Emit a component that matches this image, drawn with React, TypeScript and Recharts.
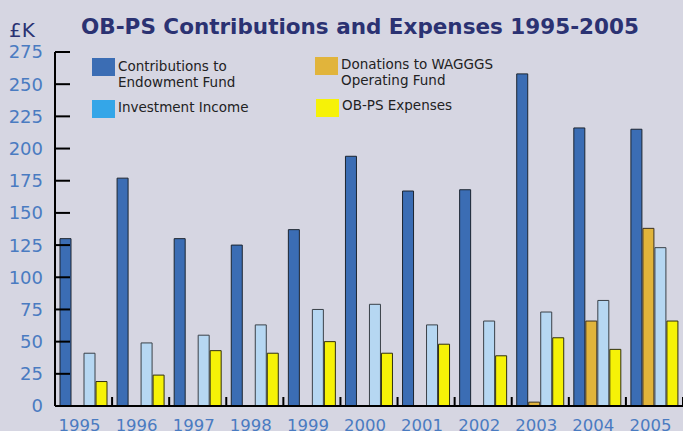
import { Bar, BarChart, XAxis, YAxis } from "recharts";

const years = ["1995", "1996", "1997", "1998", "1999", "2000", "2001", "2002", "2003", "2004", "2005"];
const contributions = [130, 177, 130, 125, 137, 194, 167, 168, 258, 216, 215];
const donations = [null, null, null, null, null, null, null, null, 3, 66, 138];
const investment = [41, 49, 55, 63, 75, 79, 63, 66, 73, 82, 123];
const expenses = [19, 24, 43, 41, 50, 41, 48, 39, 53, 44, 66];
const yTicks = [0, 25, 50, 75, 100, 125, 150, 175, 200, 225, 250, 275];

const data = years.map((year, i) => ({
  year,
  contributions: contributions[i],
  donations: donations[i],
  investment: investment[i],
  expenses: expenses[i],
}));

const series = [
  { key: "contributions", name: "Contributions to\nEndowment Fund", fill: "#3b6db4", legend: "#3b6db4", stroke: "#1c2530" },
  { key: "donations", name: "Donations to WAGGGS\nOperating Fund", fill: "#e1b43b", legend: "#e1b43b", stroke: "#3a3020" },
  { key: "investment", name: "Investment Income", fill: "#b6d7f2", legend: "#34a6e8", stroke: "#3a4048" },
  { key: "expenses", name: "OB-PS Expenses", fill: "#f6f207", legend: "#f6f207", stroke: "#303010" },
];

// where each legend entry sits (same order as series)
const legendPos = [
  { left: 92, top: 58, textTop: 58 },
  { left: 315, top: 57, textTop: 56 },
  { left: 92, top: 100, textTop: 99 },
  { left: 316, top: 99, textTop: 97 },
];

const W = 683;
const H = 431;
const AXIS_W = 55;
const BAND = (W - AXIS_W) / years.length;
const tickColor = "#4a7bc1";

function YTick(props: any) {
  const { x, y, payload } = props;
  return (
    <g>
      <line x1={x} x2={x + 15} y1={y} y2={y} stroke="#000" strokeWidth={2} />
      <text x={x - 12} y={y} dy="0.36em" textAnchor="end" fill={tickColor} fontSize={18}>
        {payload.value}
      </text>
    </g>
  );
}

function XTick(props: any) {
  const { x, y, payload, index } = props;
  return (
    <g>
      {index === 0 && <line x1={x - BAND / 2} x2={x - BAND / 2} y1={y} y2={y - 9} stroke="#000" strokeWidth={2} />}
      <line x1={x + BAND / 2} x2={x + BAND / 2} y1={y} y2={y - 9} stroke="#000" strokeWidth={2} />
      <text x={x - 4} y={y + 19} dy="0.36em" textAnchor="middle" fill={tickColor} fontSize={16.5}>
        {payload.value}
      </text>
    </g>
  );
}

function LegendBox() {
  return (
    <div style={{ position: "absolute", left: 0, top: 0, width: W, height: H, pointerEvents: "none" }}>
      {series.map((s, i) => (
        <div key={s.key}>
          <div
            style={{
              position: "absolute",
              left: legendPos[i].left,
              top: legendPos[i].top,
              width: 23,
              height: 18,
              background: s.legend,
            }}
          />
          <div
            style={{
              position: "absolute",
              left: legendPos[i].left + 26,
              top: legendPos[i].textTop,
              fontSize: 13.5,
              lineHeight: "16px",
              color: "#222",
              whiteSpace: "pre",
            }}
          >
            {s.name}
          </div>
        </div>
      ))}
    </div>
  );
}

export default function App() {
  return (
    <div
      style={{
        position: "fixed",
        left: 0,
        top: 0,
        width: W,
        height: H,
        background: "#d6d6e2",
        fontFamily: "'DejaVu Sans', Verdana, sans-serif",
        overflow: "hidden",
      }}
    >
      <BarChart
        width={W}
        height={H}
        data={data}
        margin={{ top: 52, right: 0, bottom: 0, left: 0 }}
        barCategoryGap={5}
        barGap={1}
      >
        <XAxis
          dataKey="year"
          height={25}
          tickSize={0}
          tickMargin={0}
          tick={<XTick />}
          axisLine={{ stroke: "#000", strokeWidth: 2 }}
          interval={0}
        />
        <YAxis
          width={AXIS_W}
          domain={[0, 275]}
          ticks={yTicks}
          tickSize={0}
          tickMargin={0}
          tick={<YTick />}
          axisLine={{ stroke: "#000", strokeWidth: 2 }}
          interval={0}
        />
        {series.map((s) => (
          <Bar
            key={s.key}
            dataKey={s.key}
            name={s.name}
            fill={s.fill}
            stroke={s.stroke}
            strokeWidth={1}
            isAnimationActive={false}
          />
        ))}
      </BarChart>
      <LegendBox />
      <div
        style={{
          position: "absolute",
          left: 0,
          width: 720,
          top: 12,
          textAlign: "center",
          fontSize: 21.5,
          fontWeight: "bold",
          color: "#2b3272",
          lineHeight: "30px",
        }}
      >
        OB-PS Contributions and Expenses 1995-2005
      </div>
      <div style={{ position: "absolute", left: 9, top: 15, fontSize: 20, color: "#2b3272", lineHeight: "30px" }}>
        £K
      </div>
    </div>
  );
}
